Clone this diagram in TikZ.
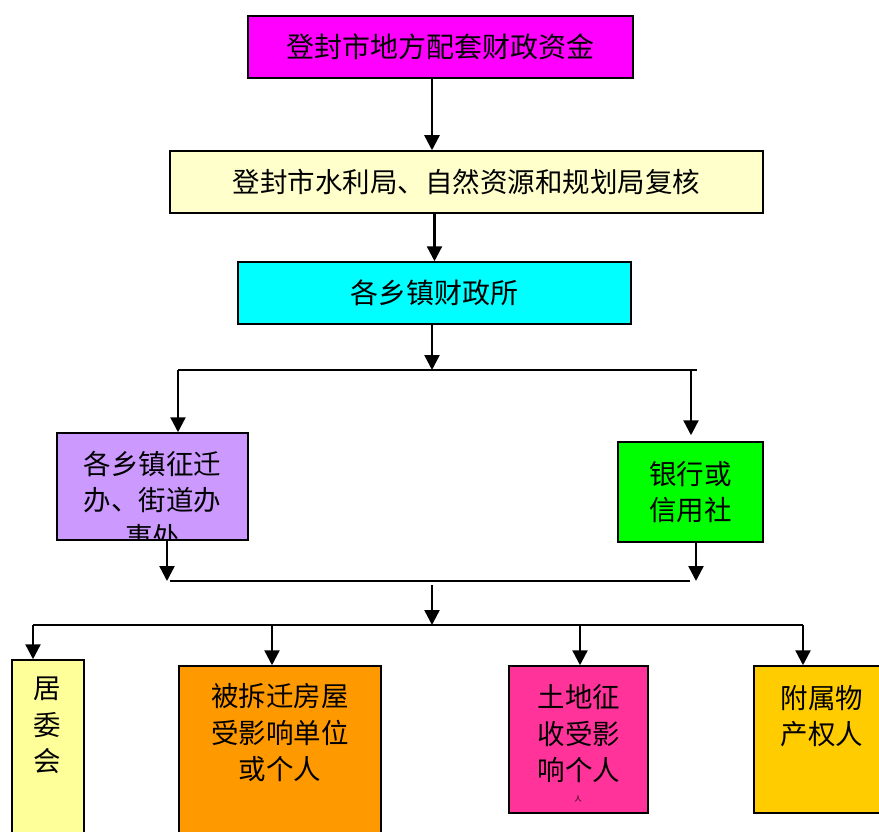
\documentclass[tikz,border=0pt]{standalone}
\usepackage{fontspec}
\setmainfont{Noto Sans CJK SC}
\usetikzlibrary{arrows.meta}

\definecolor{zihong}{HTML}{FF00FF}
\definecolor{danhuang}{HTML}{FFFFCC}
\definecolor{qing}{HTML}{00FFFF}
\definecolor{danzi}{HTML}{CC99FF}
\definecolor{lv}{HTML}{00FF00}
\definecolor{qianhuang}{HTML}{FFFF99}
\definecolor{cheng}{HTML}{FF9900}
\definecolor{meihong}{HTML}{FF3399}
\definecolor{jinhuang}{HTML}{FFCC00}

\tikzset{
  box/.style={draw=black, line width=1.5pt, rectangle, inner sep=0pt},
  flow/.style={line width=2.4pt, -{Triangle[width=15pt,length=15pt]}},
  bar/.style={line width=2.2pt},
  txt/.style={align=center, font=\fontsize{27.5}{36.5}\selectfont},
}

\begin{document}
\begin{tikzpicture}[x=1pt,y=-1pt]
\useasboundingbox (0,0) rectangle (879,832);
\begin{scope}
\clip (0,0) rectangle (879,832);
% upper chain
\node[box, txt, font=\fontsize{28}{30}\selectfont, fill=zihong, minimum width=385, minimum height=62] (zijin) at (440.5,47) {登封市地方配套财政资金};
\node[box, txt, font=\fontsize{27.5}{30}\selectfont, fill=danhuang, minimum width=593, minimum height=62] (fuhe) at (466.5,182) {登封市水利局、自然资源和规划局复核};
\node[box, txt, font=\fontsize{28}{30}\selectfont, fill=qing, minimum width=393, minimum height=62] (caizheng) at (434.5,293) {各乡镇财政所};
\node[box, fill=danzi, minimum width=191, minimum height=107] (zhengqian) at (152.5,486.5) {};
\node[box, txt, fill=lv, minimum width=145, minimum height=100] (yinhang) at (690.5,492) {银行或\\信用社};
% bottom row
\node[box, fill=qianhuang, minimum width=72, minimum height=190] (juwei) at (48,755) {};
\node[box, fill=cheng, minimum width=202, minimum height=194] (fangwu) at (280,763) {};
\node[box, fill=meihong, minimum width=139, minimum height=147] (tudi) at (578.5,739.5) {};
\node[box, fill=jinhuang, minimum width=136, minimum height=147] (fushu) at (822,739.5) {};
\node[txt] (tjuwei) at (47.5,725.5) {居\\委\\会};
\node[txt] (tfangwu) at (280,733) {被拆迁房屋\\受影响单位\\或个人};
\node[txt] (ttudi) at (579,734) {土地征\\收受影\\响个人};
\node[font=\fontsize{7}{7}\selectfont] (tren) at (578,799) {人};
\node[txt] (tfushu) at (822,716) {附属物\\产权人};
\begin{scope}
\clip (zhengqian.south west) rectangle (zhengqian.north east);
\node[txt] (tzhengqian) at (152.5,500) {各乡镇征迁\\办、街道办\\事处};
\end{scope}
% connectors
\coordinate (zhu) at (432,0);
\draw[flow] (zijin.south -| zhu) -- (fuhe.north -| zhu);
\draw[flow] (fuhe.south -| caizheng) -- (caizheng.north);
\coordinate (zuo1) at (178,370);
\coordinate (you1) at (691,370);
\draw[bar] (zuo1) -- ([xshift=6pt]you1);
\draw[flow] (caizheng.south -| zhu) -- (zuo1 -| zhu);
\draw[flow] (zuo1) -- (zuo1 |- zhengqian.north);
\draw[flow, shorten >=6pt] (you1) -- (you1 |- yinhang.north);
\coordinate (zuo2) at (167,581);
\coordinate (you2) at (696,581);
\draw[flow] (zhengqian.south -| zuo2) -- (zuo2);
\draw[flow] (yinhang.south -| you2) -- (you2);
\draw[bar] ([xshift=3pt]zuo2) -- ([xshift=-6pt]you2);
\coordinate (fen2) at (432,625);
\draw[flow] ([yshift=-4pt]zuo2 -| fen2) -- (fen2);
\foreach \n/\x in {juwei/33, fangwu/272, tudi/580, fushu/803} {
  \coordinate (d\n) at (\x,625);
  \draw[flow] (d\n) -- (d\n |- \n.north);
}
\draw[bar] (djuwei) -- (dfushu);
\end{scope}
\end{tikzpicture}
\end{document}
